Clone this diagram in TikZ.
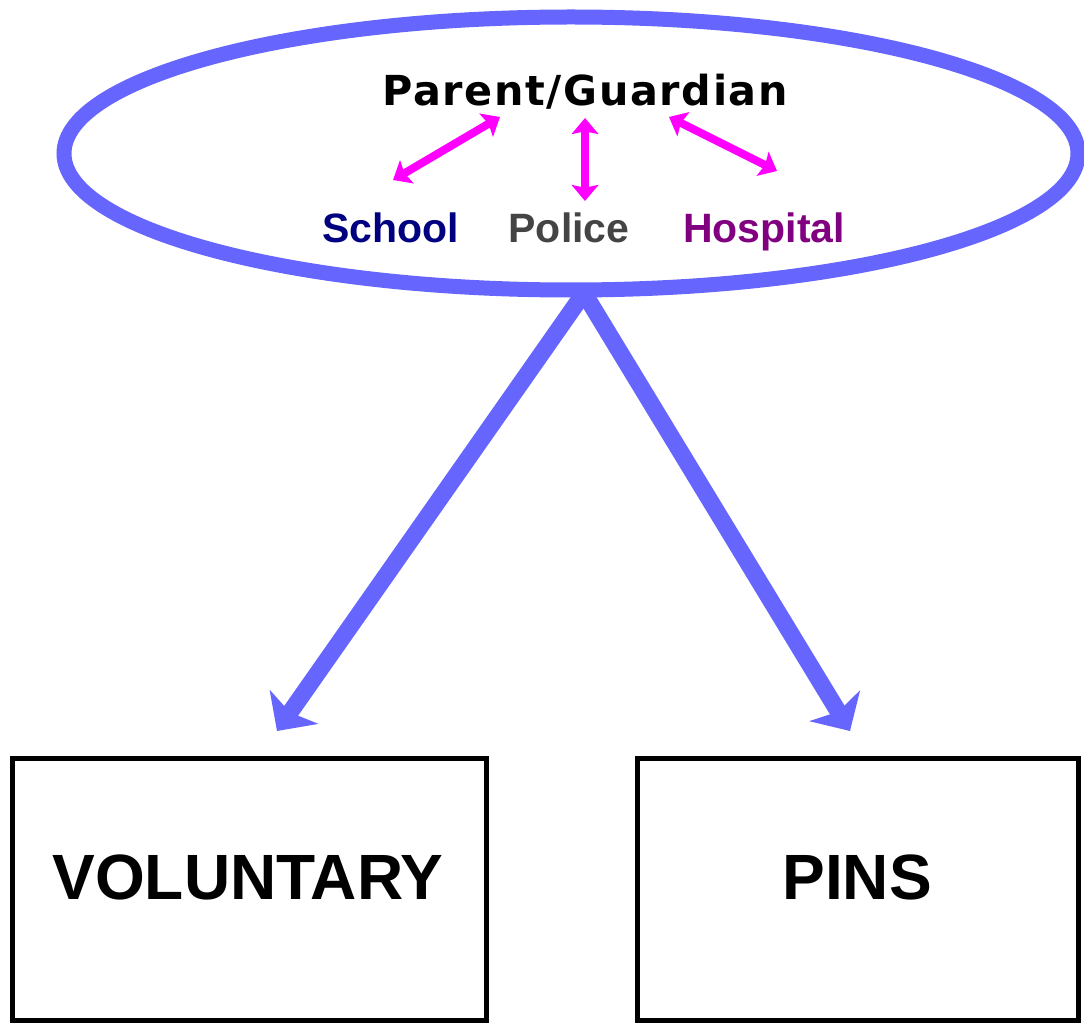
\documentclass[tikz,border=0pt]{standalone}
\usepackage{fontspec}
\setmainfont{Liberation Sans}
\newfontfamily\headfont{DejaVu Sans}[LetterSpace=4]
\usetikzlibrary{shapes.geometric,arrows.meta}

\definecolor{flowblue}{HTML}{6666FF}
\definecolor{linkpink}{HTML}{FF00FF}
\definecolor{schoolblue}{HTML}{000080}
\definecolor{policegray}{HTML}{444444}
\definecolor{hospitalpurple}{HTML}{800080}

\begin{document}
\begin{tikzpicture}[x=0.75pt,y=-0.75pt,
  hub/.style={ellipse, draw=flowblue, line width=11.25pt,
    minimum width=760.5pt, minimum height=204.75pt, inner sep=0pt},
  headtext/.style={anchor=base, inner sep=0pt,
    font=\headfont\bfseries\fontsize{31}{37}\selectfont},
  agency/.style={anchor=base, inner sep=0pt,
    font=\bfseries\fontsize{30.75}{36}\selectfont},
  outcomebox/.style={rectangle, draw=black, line width=3.75pt, inner sep=0pt},
  outcometext/.style={anchor=base, inner sep=0pt,
    font=\bfseries\fontsize{48}{56}\selectfont},
  bigflow/.style={draw=flowblue, line width=12.75pt,
    -{Stealth[length=22pt, width=44pt, inset=5pt]}},
  link/.style={draw=linkpink, line width=6pt,
    {Stealth[length=12pt, width=20pt, inset=2pt]}-{Stealth[length=12pt, width=20pt, inset=2pt]}}
]
\useasboundingbox (0,0) rectangle (1084,1023);

% family circle
\node[hub] (family) at (571,153.5) {};

% labels inside the circle
\node[headtext] (parent) at (585,106) {Parent/Guardian};
\node[agency, text=schoolblue] (school) at (390.5,243) {School};
\node[agency, text=policegray] (police) at (569,243) {Police};
\node[agency, text=hospitalpurple] (hospital) at (764,243) {Hospital};

% two-way links between parent and agencies
\coordinate (pl) at (500,117);
\coordinate (sl) at (393,180);
\coordinate (pm) at (585,118);
\coordinate (sm) at (585,201);
\coordinate (pr) at (669,117);
\coordinate (sr) at (777,171);
\draw[link] (sl) -- (pl);
\draw[link] (sm) -- (pm);
\draw[link] (sr) -- (pr);

% outcome boxes
\node[outcomebox, minimum width=355.5pt, minimum height=196.5pt] (voluntary) at (249,889) {};
\node[outcomebox, minimum width=330.75pt, minimum height=196.5pt] (pins) at (857.5,889) {};
\node[outcometext] (voluntarytext) at (248,899) {VOLUNTARY};
\node[outcometext] (pinstext) at (857,899) {PINS};

% routes from the family circle to the outcomes
\coordinate (apex) at (584,293);
\coordinate (vtip) at (277,731);
\coordinate (ptip) at (850,731);
\draw[bigflow] (apex) -- (vtip);
\draw[bigflow] (apex) -- (ptip);
\end{tikzpicture}
\end{document}
